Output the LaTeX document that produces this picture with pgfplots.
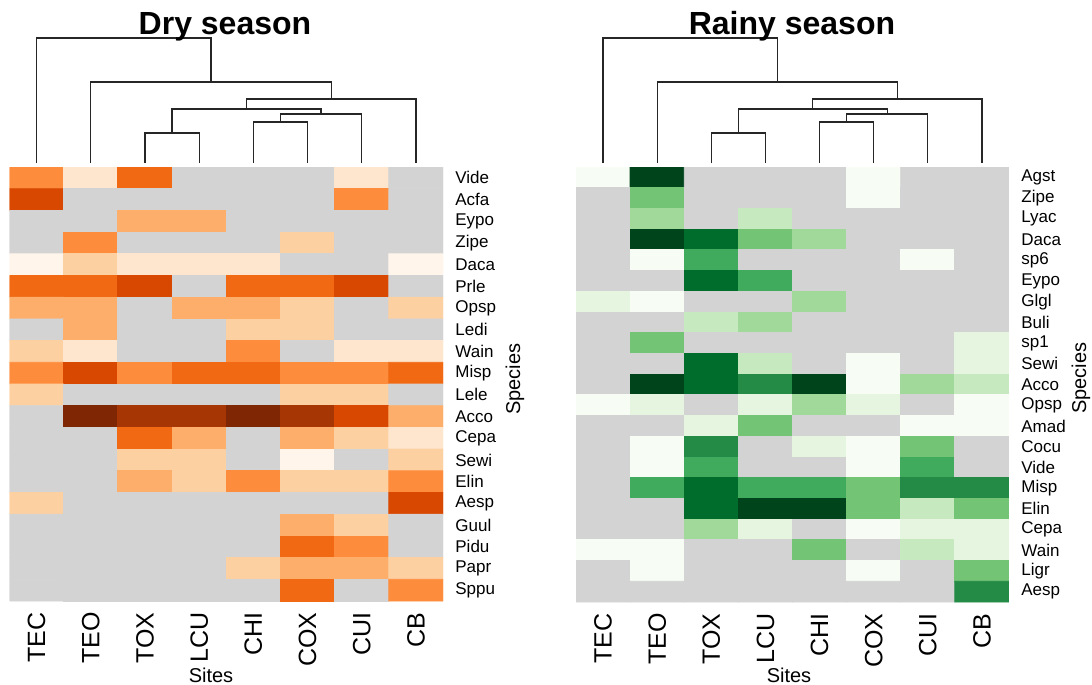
\documentclass[border=0pt]{standalone}
\usepackage{pgfplots}
\pgfplotsset{compat=1.18}
\usepackage{pgfplotstable}
\usepackage{fontspec}
\setmainfont{Liberation Sans}

\pgfplotsset{
  colormap={drymap}{
    rgb255(0pt)=(211,211,211) rgb255(9pt)=(211,211,211)
    rgb255(10pt)=(255,245,235) rgb255(19pt)=(255,245,235)
    rgb255(20pt)=(254,230,206) rgb255(29pt)=(254,230,206)
    rgb255(30pt)=(253,208,162) rgb255(39pt)=(253,208,162)
    rgb255(40pt)=(253,174,107) rgb255(49pt)=(253,174,107)
    rgb255(50pt)=(253,141,60) rgb255(59pt)=(253,141,60)
    rgb255(60pt)=(241,105,19) rgb255(69pt)=(241,105,19)
    rgb255(70pt)=(217,72,1) rgb255(79pt)=(217,72,1)
    rgb255(80pt)=(166,54,3) rgb255(89pt)=(166,54,3)
    rgb255(90pt)=(127,39,4) rgb255(100pt)=(127,39,4)},
  colormap={rainmap}{
    rgb255(0pt)=(211,211,211) rgb255(9pt)=(211,211,211)
    rgb255(10pt)=(247,252,245) rgb255(19pt)=(247,252,245)
    rgb255(20pt)=(229,245,224) rgb255(29pt)=(229,245,224)
    rgb255(30pt)=(199,233,192) rgb255(39pt)=(199,233,192)
    rgb255(40pt)=(161,217,155) rgb255(49pt)=(161,217,155)
    rgb255(50pt)=(116,196,118) rgb255(59pt)=(116,196,118)
    rgb255(60pt)=(65,171,93) rgb255(69pt)=(65,171,93)
    rgb255(70pt)=(35,139,69) rgb255(79pt)=(35,139,69)
    rgb255(80pt)=(0,109,44) rgb255(89pt)=(0,109,44)
    rgb255(90pt)=(0,68,27) rgb255(100pt)=(0,68,27)},
  heat/.style={
    scale only axis, anchor=south west,
    xmin=-0.5, xmax=7.5, y dir=reverse,
    axis line style={draw=none}, major tick length=0pt,
    xtick={0,...,7}, xticklabels={TEC,TEO,TOX,LCU,CHI,COX,CUI,CB},
    xticklabel style={rotate=90, anchor=east, inner xsep=5.5pt, inner ysep=0pt, font=\fontsize{12.5pt}{14pt}\selectfont},
    yticklabel pos=right,
    yticklabel style={anchor=west, inner xsep=6pt, inner ysep=0pt, font=\fontsize{8.5pt}{10pt}\selectfont},
    point meta min=-0.5, point meta max=9.5,
  },
  dendro/.style={
    scale only axis, anchor=south west, hide axis, clip=false,
    xmin=-0.5, xmax=7.5, ymin=0, ymax=125, height=62.5pt,
  },
  dl/.style={black!85, line width=0.65pt, mark=none, sharp plot},
}

\pgfplotstableread[row sep=\\]{
i v\\
0 5\\0 2\\0 6\\0 0\\0 0\\0 0\\0 2\\0 0\\
0 7\\0 0\\0 0\\0 0\\0 0\\0 0\\0 5\\0 0\\
0 0\\0 0\\0 4\\0 4\\0 0\\0 0\\0 0\\0 0\\
0 0\\0 5\\0 0\\0 0\\0 0\\0 3\\0 0\\0 0\\
0 1\\0 3\\0 2\\0 2\\0 2\\0 0\\0 0\\0 1\\
0 6\\0 6\\0 7\\0 0\\0 6\\0 6\\0 7\\0 0\\
0 4\\0 4\\0 0\\0 4\\0 4\\0 3\\0 0\\0 3\\
0 0\\0 4\\0 0\\0 0\\0 3\\0 3\\0 0\\0 0\\
0 3\\0 2\\0 0\\0 0\\0 5\\0 0\\0 2\\0 2\\
0 5\\0 7\\0 5\\0 6\\0 6\\0 5\\0 5\\0 6\\
0 3\\0 0\\0 0\\0 0\\0 0\\0 3\\0 3\\0 0\\
0 0\\0 9\\0 8\\0 8\\0 9\\0 8\\0 7\\0 4\\
0 0\\0 0\\0 6\\0 4\\0 0\\0 4\\0 3\\0 2\\
0 0\\0 0\\0 3\\0 3\\0 0\\0 1\\0 0\\0 3\\
0 0\\0 0\\0 4\\0 3\\0 5\\0 3\\0 3\\0 5\\
0 3\\0 0\\0 0\\0 0\\0 0\\0 0\\0 0\\0 7\\
0 0\\0 0\\0 0\\0 0\\0 0\\0 4\\0 3\\0 0\\
0 0\\0 0\\0 0\\0 0\\0 0\\0 6\\0 5\\0 0\\
0 0\\0 0\\0 0\\0 0\\0 3\\0 4\\0 4\\0 3\\
0 0\\0 0\\0 0\\0 0\\0 0\\0 6\\0 0\\0 5\\
}\drytab

\pgfplotstableread[row sep=\\]{
i v\\
0 1\\0 9\\0 0\\0 0\\0 0\\0 1\\0 0\\0 0\\
0 0\\0 5\\0 0\\0 0\\0 0\\0 1\\0 0\\0 0\\
0 0\\0 4\\0 0\\0 3\\0 0\\0 0\\0 0\\0 0\\
0 0\\0 9\\0 8\\0 5\\0 4\\0 0\\0 0\\0 0\\
0 0\\0 1\\0 6\\0 0\\0 0\\0 0\\0 1\\0 0\\
0 0\\0 0\\0 8\\0 6\\0 0\\0 0\\0 0\\0 0\\
0 2\\0 1\\0 0\\0 0\\0 4\\0 0\\0 0\\0 0\\
0 0\\0 0\\0 3\\0 4\\0 0\\0 0\\0 0\\0 0\\
0 0\\0 5\\0 0\\0 0\\0 0\\0 0\\0 0\\0 2\\
0 0\\0 0\\0 8\\0 3\\0 0\\0 1\\0 0\\0 2\\
0 0\\0 9\\0 8\\0 7\\0 9\\0 1\\0 4\\0 3\\
0 1\\0 2\\0 0\\0 2\\0 4\\0 2\\0 0\\0 1\\
0 0\\0 0\\0 2\\0 5\\0 0\\0 0\\0 1\\0 1\\
0 0\\0 1\\0 7\\0 0\\0 2\\0 1\\0 5\\0 0\\
0 0\\0 1\\0 6\\0 0\\0 0\\0 1\\0 6\\0 0\\
0 0\\0 6\\0 8\\0 6\\0 6\\0 5\\0 7\\0 7\\
0 0\\0 0\\0 8\\0 9\\0 9\\0 5\\0 3\\0 5\\
0 0\\0 0\\0 4\\0 2\\0 0\\0 1\\0 2\\0 2\\
0 1\\0 1\\0 0\\0 0\\0 5\\0 0\\0 3\\0 2\\
0 0\\0 1\\0 0\\0 0\\0 0\\0 1\\0 0\\0 5\\
0 0\\0 0\\0 0\\0 0\\0 0\\0 0\\0 0\\0 7\\
}\raintab

\begin{document}
\begin{tikzpicture}
\useasboundingbox (0pt,0pt) rectangle (546pt,-342.5pt);

% ---------- Dry season ----------
\begin{axis}[dendro, width=216.75pt, at={(4.75pt,-81.5pt)}]
\addplot[dl] coordinates {(2,0)(2,30)(3,30)(3,0)};
\addplot[dl] coordinates {(4,0)(4,41)(5,41)(5,0)};
\addplot[dl] coordinates {(4.5,41)(4.5,49)(6,49)(6,0)};
\addplot[dl] coordinates {(2.5,30)(2.5,54)(5.25,54)(5.25,49)};
\addplot[dl] coordinates {(3.875,54)(3.875,64)(7,64)(7,0)};
\addplot[dl] coordinates {(1,0)(1,81)(5.4375,81)(5.4375,64)};
\addplot[dl] coordinates {(0,0)(0,125)(3.21875,125)(3.21875,81)};
\end{axis}

\begin{axis}[heat, width=216.75pt, height=217pt, at={(4.75pt,-300.5pt)},
  ymin=-0.5, ymax=19.5, colormap name=drymap,
  ytick={0,...,19},
  yticklabels={Vide,Acfa,Eypo,Zipe,Daca,Prle,Opsp,Ledi,Wain,Misp,Lele,Acco,Cepa,Sewi,Elin,Aesp,Guul,Pidu,Papr,Sppu}]
\addplot[matrix plot*, mesh/cols=8, point meta=explicit]
  table[x expr={mod(\coordindex,8)}, y expr={floor((\coordindex+0.5)/8)}, meta=v] {\drytab};
\end{axis}

% ---------- Rainy season ----------
\begin{axis}[dendro, width=216.5pt, at={(288pt,-81.5pt)}]
\addplot[dl] coordinates {(2,0)(2,30)(3,30)(3,0)};
\addplot[dl] coordinates {(4,0)(4,41)(5,41)(5,0)};
\addplot[dl] coordinates {(4.5,41)(4.5,49)(6,49)(6,0)};
\addplot[dl] coordinates {(2.5,30)(2.5,54)(5.25,54)(5.25,49)};
\addplot[dl] coordinates {(3.875,54)(3.875,64)(7,64)(7,0)};
\addplot[dl] coordinates {(1,0)(1,81)(5.4375,81)(5.4375,64)};
\addplot[dl] coordinates {(0,0)(0,125)(3.21875,125)(3.21875,81)};
\end{axis}

\begin{axis}[heat, width=216.5pt, height=217.5pt, at={(288pt,-301pt)},
  ymin=-0.5, ymax=20.5, colormap name=rainmap,
  ytick={0,...,20},
  yticklabels={Agst,Zipe,Lyac,Daca,sp6,Eypo,Glgl,Buli,sp1,Sewi,Acco,Opsp,Amad,Cocu,Vide,Misp,Elin,Cepa,Wain,Ligr,Aesp}]
\addplot[matrix plot*, mesh/cols=8, point meta=explicit]
  table[x expr={mod(\coordindex,8)}, y expr={floor((\coordindex+0.5)/8)}, meta=v] {\raintab};
\end{axis}

% ---------- Titles and labels ----------
\node[anchor=base, font=\bfseries\fontsize{16pt}{19pt}\selectfont] at (112.5pt,-17pt) {Dry season};
\node[anchor=base, font=\bfseries\fontsize{16pt}{19pt}\selectfont] at (396pt,-17pt) {Rainy season};
\node[anchor=base, font=\fontsize{10pt}{12pt}\selectfont] at (105.5pt,-341pt) {Sites};
\node[anchor=base, font=\fontsize{10pt}{12pt}\selectfont] at (394.5pt,-341pt) {Sites};
\node[rotate=90, font=\fontsize{10pt}{12pt}\selectfont] at (257.5pt,-189.5pt) {Species};
\node[rotate=90, font=\fontsize{10pt}{12pt}\selectfont] at (540.5pt,-189pt) {Species};
\end{tikzpicture}
\end{document}
